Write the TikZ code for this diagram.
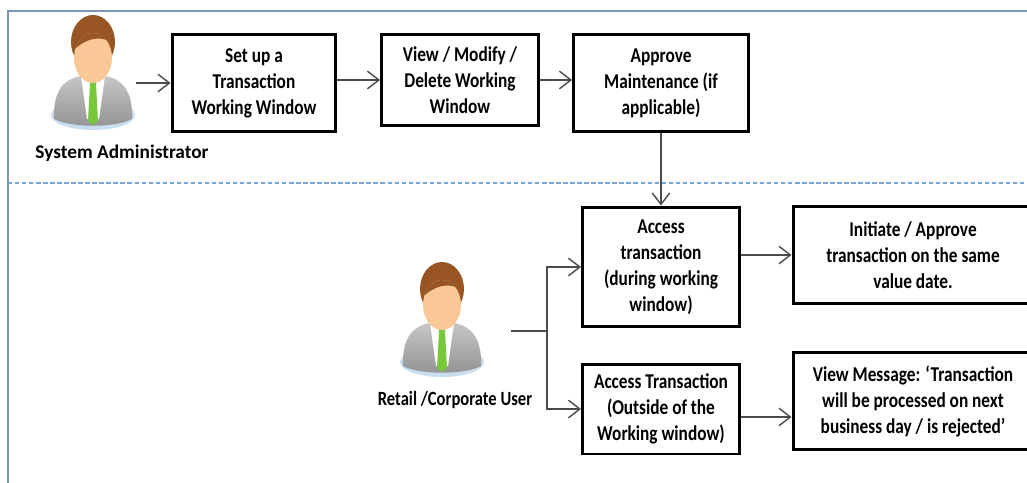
\documentclass[tikz,border=0pt]{standalone}
\usepackage{fontspec}
\setmainfont{Carlito}
\newfontfamily\narrowfont[FakeStretch=0.82]{Carlito}
\usetikzlibrary{arrows.meta,shadings}

\definecolor{framecol}{RGB}{125,150,185}
\definecolor{dashcol}{RGB}{120,165,215}
\definecolor{linecol}{RGB}{75,75,75}
\definecolor{skin}{RGB}{250,200,150}
\definecolor{haircol}{RGB}{150,85,35}
\definecolor{tiecol}{RGB}{120,200,60}
\definecolor{basecol}{RGB}{200,222,240}

\tikzset{
  person/.pic={
    \fill[basecol] (0,100) ellipse [x radius=42, y radius=15];
    \shade[top color=gray!45, bottom color=gray!85]
      (-39,104) .. controls (-40,74) and (-28,64) .. (-12,61) -- (12,61)
      .. controls (28,64) and (40,74) .. (39,104)
      .. controls (22,113) and (-22,113) .. cycle;
    \fill[white] (-12,61) -- (12,61) -- (6,104) -- (-6,104) -- cycle;
    \fill[skin] (-8,52) rectangle (8,66);
    \fill[tiecol] (-4,63) -- (4,63) -- (3,69) -- (5,106) -- (0,110) -- (-5,106) -- (-3,69) -- cycle;
    \fill[haircol] (0,27) ellipse [x radius=22, y radius=27];
    \fill[skin] (0,43) ellipse [x radius=19, y radius=25];
    \begin{scope}
      \clip (0,43) ellipse [x radius=19, y radius=25];
      \fill[haircol] (-22,38) .. controls (-10,24) and (8,18) .. (22,30) -- (22,0) -- (-22,0) -- cycle;
    \end{scope}
  }
}

\begin{document}
\begin{tikzpicture}
  [x=0.02cm, y=-0.02cm,
   stepbox/.style={draw, line width=1.7pt, fill=white, align=center, inner sep=0pt,
     font=\narrowfont\bfseries\fontsize{12}{14.8}\selectfont},
   flow/.style={draw=linecol, line width=0.8pt, -{Straight Barb[length=6.5pt, width=10pt]}},
   role/.style={font=\bfseries\fontsize{11}{13}\selectfont}]
  \useasboundingbox (0,0) rectangle (1027,483);
  \clip (0,0) rectangle (1027,483);

  \draw[framecol, line width=1.3pt] (8,11) rectangle (1060,520);
  \draw[dashcol, line width=1pt, dash pattern=on 2.5pt off 1.5pt] (8,183) -- (1027,183);

  \pic at (93,15) {person};
  \node[role] (admin) at (122,153) {System Administrator};
  \pic at (442,262) {person};
  \node[role, font=\narrowfont\bfseries\fontsize{11.5}{13}\selectfont] (user) at (455,400) {Retail /Corporate User};

  \node[stepbox, minimum width=3.28cm, minimum height=1.94cm] (setup) at (254,83)
    {Set up a\\Transaction\\Working Window};
  \node[stepbox, minimum width=3.14cm, minimum height=1.84cm] (modify) at (460,80)
    {View / Modify /\\Delete Working\\Window};
  \node[stepbox, minimum width=3.5cm, minimum height=1.96cm] (approve) at (661,83)
    {Approve\\Maintenance (if\\applicable)};
  \node[stepbox, minimum width=3.14cm, minimum height=2.4cm] (during) at (661,267)
    {Access\\transaction\\(during working\\window)};
  \node[stepbox, minimum width=3.14cm, minimum height=1.8cm] (outside) at (661,409)
    {Access Transaction\\(Outside of the\\Working window)};
  \node[stepbox, minimum width=4.8cm, minimum height=1.94cm] (initiate) at (913,255)
    {Initiate / Approve\\transaction on the same\\value date.};
  \node[stepbox, minimum width=4.8cm, minimum height=1.94cm] (message) at (913,401)
    {View Message: ‘Transaction\\will be processed on next\\business day / is rejected’};

  \coordinate (admin-out) at (136,83);
  \coordinate (user-out) at (511,331);
  \coordinate (fork) at (547,331);

  \draw[flow] (admin-out) -- (setup.west |- admin-out);
  \draw[flow] (setup.east |- modify.west) -- (modify.west);
  \draw[flow] (modify.east) -- (approve.west |- modify.east);
  \draw[flow] (approve.south) -- (during.north);
  \draw[linecol, line width=0.8pt] (user-out) -- (fork);
  \draw[flow] (fork) |- (during.west);
  \draw[flow] (fork) |- (outside.west);
  \draw[flow] (during.east |- initiate.west) -- (initiate.west);
  \draw[flow] ([yshift=-0.16cm]outside.east) -- ([yshift=-0.16cm]outside.east -| message.west);
\end{tikzpicture}
\end{document}
